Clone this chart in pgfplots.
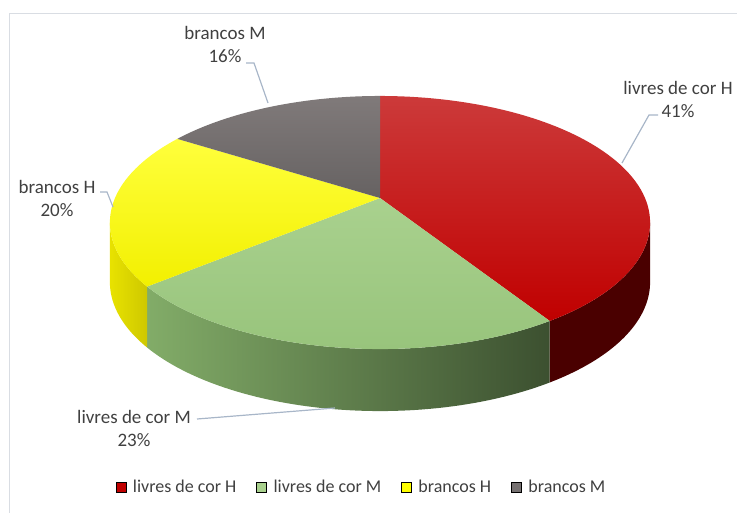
\documentclass[border=0pt]{standalone}
\usepackage{pgfplots}
\pgfplotsset{compat=1.18}
\usepackage{pgfplotstable}
\usepackage{fontspec}
\setmainfont{Carlito}

\definecolor{txt}{HTML}{404040}
\definecolor{frame}{HTML}{D9DDE3}
\definecolor{leader}{HTML}{A8B6C8}
\definecolor{cred}{HTML}{C00000}
\definecolor{credtop}{HTML}{CC3A3A}
\definecolor{credside}{HTML}{4A0000}
\definecolor{cgreen}{HTML}{A9D18E}
\definecolor{cgreenlow}{HTML}{98C47C}
\definecolor{cgreensideL}{HTML}{82AC68}
\definecolor{cgreensideR}{HTML}{3C5030}
\definecolor{cyellow}{HTML}{FFFF00}
\definecolor{cyellowtop}{HTML}{FFFF3C}
\definecolor{cyellowlow}{HTML}{F2F000}
\definecolor{cyellowsideL}{HTML}{E8E200}
\definecolor{cyellowsideR}{HTML}{CEC800}
\definecolor{cgray}{HTML}{767171}
\definecolor{cgraytop}{HTML}{807A7A}
\definecolor{cgraylow}{HTML}{666262}

% shares in percent, clockwise from 12 o'clock
\pgfplotstableread{
label value
H-cor 41
M-cor 23
H-branco 20
M-branco 16
}\piedata
\pgfplotstablegetelem{0}{value}\of\piedata\edef\vA{\pgfplotsretval}
\pgfplotstablegetelem{1}{value}\of\piedata\edef\vB{\pgfplotsretval}
\pgfplotstablegetelem{2}{value}\of\piedata\edef\vC{\pgfplotsretval}
\pgfplotstablegetelem{3}{value}\of\piedata\edef\vD{\pgfplotsretval}

\pgfmathsetmacro\aA{90}
\pgfmathsetmacro\aB{\aA-3.6*\vA}
\pgfmathsetmacro\aC{\aB-3.6*\vB}
\pgfmathsetmacro\aD{\aC-3.6*\vC}
\pgfmathsetmacro\aE{\aD-3.6*\vD}
% silhouette angles of the tilted disc
\pgfmathsetmacro\silR{-asin(0.1937)}
\pgfmathsetmacro\silL{-180-\silR}

\begin{document}
\begin{tikzpicture}[declare function={
    px(\t)=380+265*cos(\t)/(1+0.1937*sin(\t));
    py(\t)=198-121.8*sin(\t)/(1+0.1937*sin(\t));
    dz(\t)=59-3*sin(\t);}]
\begin{axis}[
    width=737pt, height=512pt, scale only axis,
    xmin=0, xmax=737, ymin=0, ymax=512, y dir=reverse,
    hide axis, clip=true,
    legend image code/.code={\fill[#1] (0pt,-5pt) rectangle (10pt,5pt);
      \path[draw=none, fill=none] (0pt,0pt) -- (14pt,0pt);},
    legend style={at={(axis cs:362,487)}, anchor=center, draw=none, fill=none,
      legend columns=-1, font=\fontsize{18}{21}\selectfont, text=txt,
      inner sep=0pt, nodes={inner xsep=3pt, inner ysep=0pt},
      /tikz/every even column/.append style={column sep=17pt}},
  ]
  % chart frame
  \draw[frame, line width=1.2pt] (9.5,13.5) rectangle (760,540);

  % sides
  \fill[credside] plot[domain=\aB:\silR, samples=40] ({px(\x)},{py(\x)})
     -- plot[domain=\silR:\aB, samples=40] ({px(\x)},{py(\x)+dz(\x)}) -- cycle;
  \shade[left color=cgreensideL, right color=cgreensideR]
     plot[domain=\aC:\aB, samples=60] ({px(\x)},{py(\x)})
     -- plot[domain=\aB:\aC, samples=60] ({px(\x)},{py(\x)+dz(\x)}) -- cycle;
  \shade[left color=cyellowsideL, right color=cyellowsideR]
     plot[domain=\silL:\aC, samples=30] ({px(\x)},{py(\x)})
     -- plot[domain=\aC:\silL, samples=30] ({px(\x)},{py(\x)+dz(\x)}) -- cycle;

  % top face
  \shade[top color=credtop, middle color=cred, bottom color=cred]
     (380,198) -- plot[domain=\aA:\aB, samples=80] ({px(\x)},{py(\x)}) -- cycle;
  \shade[top color=cgreen, bottom color=cgreenlow]
     (380,198) -- plot[domain=\aB:\aC, samples=60] ({px(\x)},{py(\x)}) -- cycle;
  \shade[top color=cyellowtop, middle color=cyellow, bottom color=cyellowlow]
     (380,198) -- plot[domain=\aC:\aD, samples=50] ({px(\x)},{py(\x)}) -- cycle;
  \shade[top color=cgraytop, bottom color=cgraylow]
     (380,198) -- plot[domain=\aD:\aE, samples=50] ({px(\x)},{py(\x)}) -- cycle;

  % data labels and leader lines
  \draw[leader, line width=1.2pt] (658,115) -- (649,115) -- (622,163);
  \draw[leader, line width=1.2pt] (246,63) -- (254,63) -- (268,103);
  \draw[leader, line width=1.2pt] (100,192) -- (107,192) -- (113,207);
  \draw[leader, line width=1.2pt] (197,419) -- (335,408);
  \begin{scope}[every node/.style={align=center, text=txt, font=\fontsize{19}{23}\selectfont}]
    \node at (678,99) {livres de cor H\\\vA\%};
    \node at (225,44) {brancos M\\\vD\%};
    \node at (57,198) {brancos H\\\vC\%};
    \node at (134,428) {livres de cor M\\\vB\%};
  \end{scope}

  \addlegendimage{fill=cred}\addlegendentry{livres de cor H}
  \addlegendimage{fill=cgreen}\addlegendentry{livres de cor M}
  \addlegendimage{fill=cyellow}\addlegendentry{brancos H}
  \addlegendimage{fill=cgray}\addlegendentry{brancos M}
\end{axis}
\pgfresetboundingbox
\useasboundingbox (current axis.south west) rectangle (current axis.north east);
\end{tikzpicture}
\end{document}
